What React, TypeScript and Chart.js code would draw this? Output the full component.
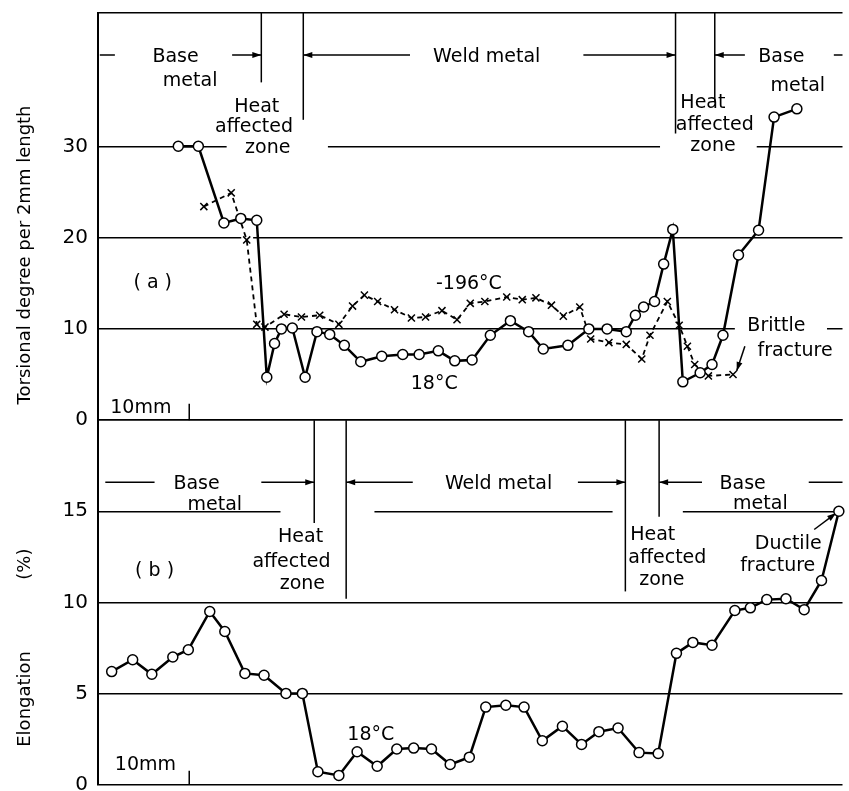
import React, { useEffect, useRef } from 'react';
import { Chart, registerables } from 'chart.js';

Chart.register(...registerables);

// ---------- axes ----------
const X_MAX = 81.6; // mm shown across the plot
const A_MAX = 44.6;
const B_MAX = 20;
const A_TICKS = [0, 10, 20, 30];
const B_TICKS = [0, 5, 10, 15];

// ---------- (a) torsional degree per 2mm length ----------
const A18_X = [8.8, 11.0, 13.8, 15.65, 17.4, 18.5, 19.35, 20.1, 21.3, 22.7, 24.0, 25.4, 27.0, 28.8, 31.1, 33.4, 35.2, 37.3, 39.1, 41.0, 43.0, 45.2, 47.2, 48.8, 51.5, 53.8, 55.8, 57.9, 58.9, 59.8, 61.0, 62.0, 63.0, 64.1, 66.0, 67.3, 68.5, 70.2, 72.4, 74.1, 76.6];
const A18_Y = [30.0, 30.0, 21.6, 22.1, 21.9, 4.7, 8.4, 10.0, 10.1, 4.7, 9.7, 9.4, 8.2, 6.4, 7.0, 7.2, 7.2, 7.6, 6.5, 6.6, 9.3, 10.9, 9.7, 7.8, 8.2, 10.0, 10.0, 9.7, 11.5, 12.4, 13.0, 17.1, 20.9, 4.2, 5.2, 6.1, 9.3, 18.1, 20.8, 33.2, 34.1];

const A196_X = [11.6, 14.6, 16.3, 17.4, 18.3, 20.4, 22.3, 24.3, 26.4, 27.9, 29.2, 30.65, 32.5, 34.35, 35.9, 37.7, 39.35, 40.8, 42.4, 44.8, 46.5, 48.0, 49.7, 51.0, 52.8, 54.0, 56.0, 57.9, 59.6, 60.5, 62.4, 63.7, 64.6, 65.4, 66.9, 69.6];
const A196_Y = [23.4, 24.9, 19.75, 10.5, 10.2, 11.6, 11.3, 11.5, 10.5, 12.5, 13.7, 13.0, 12.1, 11.2, 11.3, 12.0, 11.0, 12.8, 13.0, 13.5, 13.2, 13.4, 12.6, 11.4, 12.4, 8.9, 8.5, 8.3, 6.7, 9.3, 13.0, 10.4, 8.1, 6.1, 4.85, 5.0];

// ---------- (b) elongation (%) ----------
const B18_X = [1.5, 3.8, 5.9, 8.2, 9.9, 12.25, 13.9, 16.1, 18.2, 20.6, 22.4, 24.1, 26.4, 28.4, 30.6, 32.75, 34.6, 36.55, 38.6, 40.7, 42.5, 44.7, 46.7, 48.7, 50.9, 53.0, 54.9, 57.0, 59.3, 61.4, 63.4, 65.2, 67.3, 69.8, 71.5, 73.3, 75.4, 77.4, 79.3, 81.2];
const B18_Y = [6.2, 6.85, 6.05, 7.0, 7.4, 9.5, 8.4, 6.1, 6.0, 5.0, 5.0, 0.7, 0.5, 1.8, 1.0, 1.95, 2.0, 1.95, 1.1, 1.5, 4.25, 4.35, 4.25, 2.4, 3.2, 2.2, 2.9, 3.1, 1.75, 1.7, 7.2, 7.8, 7.65, 9.55, 9.7, 10.15, 10.2, 9.6, 11.2, 15.0];

// ---------- annotations (data units, panel 'a' or 'b') ----------
type P = 'a' | 'b';
const LABELS: { p: P; x: number; y: number; t: string }[] = [
  { p: 'a', x: 8.5, y: 39.8, t: 'Base' },
  { p: 'a', x: 10.1, y: 37.2, t: 'metal' },
  { p: 'a', x: 17.4, y: 34.3, t: 'Heat' },
  { p: 'a', x: 17.1, y: 32.1, t: 'affected' },
  { p: 'a', x: 18.6, y: 29.8, t: 'zone' },
  { p: 'a', x: 42.6, y: 39.8, t: 'Weld metal' },
  { p: 'a', x: 66.3, y: 34.7, t: 'Heat' },
  { p: 'a', x: 67.6, y: 32.3, t: 'affected' },
  { p: 'a', x: 67.4, y: 30.0, t: 'zone' },
  { p: 'a', x: 74.9, y: 39.8, t: 'Base' },
  { p: 'a', x: 76.7, y: 36.6, t: 'metal' },
  { p: 'a', x: 6.0, y: 15.0, t: '( a )' },
  { p: 'a', x: 40.65, y: 14.9, t: '-196°C' },
  { p: 'a', x: 36.85, y: 4.0, t: '18°C' },
  { p: 'a', x: 74.35, y: 10.3, t: 'Brittle' },
  { p: 'a', x: 76.4, y: 7.6, t: 'fracture' },
  { p: 'a', x: 4.7, y: 1.3, t: '10mm' },
  { p: 'b', x: 10.8, y: 16.5, t: 'Base' },
  { p: 'b', x: 12.8, y: 15.35, t: 'metal' },
  { p: 'b', x: 22.2, y: 13.6, t: 'Heat' },
  { p: 'b', x: 21.2, y: 12.2, t: 'affected' },
  { p: 'b', x: 22.4, y: 11.0, t: 'zone' },
  { p: 'b', x: 43.9, y: 16.5, t: 'Weld metal' },
  { p: 'b', x: 60.8, y: 13.7, t: 'Heat' },
  { p: 'b', x: 62.4, y: 12.45, t: 'affected' },
  { p: 'b', x: 61.8, y: 11.2, t: 'zone' },
  { p: 'b', x: 70.65, y: 16.5, t: 'Base' },
  { p: 'b', x: 72.6, y: 15.4, t: 'metal' },
  { p: 'b', x: 75.65, y: 13.2, t: 'Ductile' },
  { p: 'b', x: 74.5, y: 12.0, t: 'fracture' },
  { p: 'b', x: 6.2, y: 11.7, t: '( b )' },
  { p: 'b', x: 29.9, y: 2.7, t: '18°C' },
  { p: 'b', x: 5.2, y: 1.05, t: '10mm' },
];

const TITLES: { p: P; y: number; t: string }[] = [
  { p: 'a', y: 18.1, t: 'Torsional degree per 2mm length' },
  { p: 'b', y: 12.1, t: '(%)' },
  { p: 'b', y: 4.7, t: 'Elongation' },
];

const LINES: { p: P; x0: number; y0: number; x1: number; y1: number }[] = [
  { p: 'a', x0: 0.2, y0: 40, x1: 1.85, y1: 40 },
  { p: 'a', x0: 17.9, y0: A_MAX, x1: 17.9, y1: 37.0 },
  { p: 'a', x0: 22.5, y0: A_MAX, x1: 22.5, y1: 32.9 },
  { p: 'a', x0: 63.3, y0: A_MAX, x1: 63.3, y1: 31.4 },
  { p: 'a', x0: 67.6, y0: A_MAX, x1: 67.6, y1: 34.8 },
  { p: 'a', x0: 80.65, y0: 40, x1: X_MAX, y1: 40 },
  { p: 'a', x0: 10, y0: 0, x1: 10, y1: 1.8 },
  { p: 'b', x0: 0.8, y0: 16.6, x1: 6.2, y1: 16.6 },
  { p: 'b', x0: 23.7, y0: B_MAX, x1: 23.7, y1: 14.35 },
  { p: 'b', x0: 27.2, y0: B_MAX, x1: 27.2, y1: 10.2 },
  { p: 'b', x0: 57.8, y0: B_MAX, x1: 57.8, y1: 10.6 },
  { p: 'b', x0: 61.5, y0: B_MAX, x1: 61.5, y1: 14.7 },
  { p: 'b', x0: 77.9, y0: 16.6, x1: X_MAX, y1: 16.6 },
  { p: 'b', x0: 10, y0: 0, x1: 10, y1: 0.75 },
];

// arrow head at (x1, y1)
const ARROWS: { p: P; x0: number; y0: number; x1: number; y1: number }[] = [
  { p: 'a', x0: 14.7, y0: 40, x1: 17.9, y1: 40 },
  { p: 'a', x0: 34.2, y0: 40, x1: 22.5, y1: 40 },
  { p: 'a', x0: 53.2, y0: 40, x1: 63.3, y1: 40 },
  { p: 'a', x0: 70.9, y0: 40, x1: 67.6, y1: 40 },
  { p: 'a', x0: 70.9, y0: 8.1, x1: 70.0, y1: 5.4 },
  { p: 'b', x0: 17.9, y0: 16.6, x1: 23.7, y1: 16.6 },
  { p: 'b', x0: 34.5, y0: 16.6, x1: 27.2, y1: 16.6 },
  { p: 'b', x0: 52.6, y0: 16.6, x1: 57.8, y1: 16.6 },
  { p: 'b', x0: 66.2, y0: 16.6, x1: 61.5, y1: 16.6 },
  { p: 'b', x0: 78.5, y0: 14.0, x1: 80.9, y1: 14.9 },
];

// breaks in the horizontal rules
const GRID_GAPS: { p: P; y: number; x0: number; x1: number }[] = [
  { p: 'a', y: 30, x0: 14.1, x1: 25.2 },
  { p: 'a', y: 30, x0: 61.6, x1: 72.2 },
  { p: 'a', y: 20, x0: 15.7, x1: 17.0 },
  { p: 'a', y: 10, x0: 69.8, x1: 79.9 },
  { p: 'b', y: 15, x0: 20.0, x1: 30.3 },
  { p: 'b', y: 15, x0: 56.4, x1: 64.1 },
];

const FONT = 'DejaVu Sans';
const INK = '#000';

const annotationPlugin = {
  id: 'weldAnnotations',
  beforeDatasetsDraw(chart: any) {
    const { ctx, scales, chartArea } = chart;
    const xs = scales.x;
    const yOf = (p: P) => (p === 'a' ? scales.ya : scales.yb);
    const px = (v: number) => xs.getPixelForValue(v);
    ctx.save();
    ctx.fillStyle = '#fff';
    for (const g of GRID_GAPS) {
      const y = yOf(g.p).getPixelForValue(g.y);
      ctx.fillRect(px(g.x0), y - 2.5, px(g.x1) - px(g.x0), 5);
    }
    ctx.strokeStyle = INK;
    ctx.fillStyle = INK;
    ctx.lineWidth = 1.5;
    for (const l of LINES) {
      const ys = yOf(l.p);
      ctx.beginPath();
      ctx.moveTo(px(l.x0), ys.getPixelForValue(l.y0));
      ctx.lineTo(px(l.x1), ys.getPixelForValue(l.y1));
      ctx.stroke();
    }
    for (const a of ARROWS) {
      const ys = yOf(a.p);
      const x0 = px(a.x0), y0 = ys.getPixelForValue(a.y0);
      const x1 = px(a.x1), y1 = ys.getPixelForValue(a.y1);
      ctx.beginPath();
      ctx.moveTo(x0, y0);
      ctx.lineTo(x1, y1);
      ctx.stroke();
      const ang = Math.atan2(y1 - y0, x1 - x0);
      const L = 9, W = 3;
      ctx.beginPath();
      ctx.moveTo(x1, y1);
      ctx.lineTo(x1 - L * Math.cos(ang) + W * Math.sin(ang), y1 - L * Math.sin(ang) - W * Math.cos(ang));
      ctx.lineTo(x1 - L * Math.cos(ang) - W * Math.sin(ang), y1 - L * Math.sin(ang) + W * Math.cos(ang));
      ctx.closePath();
      ctx.fill();
    }
    ctx.font = `19px "${FONT}"`;
    ctx.textAlign = 'center';
    ctx.textBaseline = 'middle';
    for (const t of LABELS) {
      ctx.fillText(t.t, px(t.x), yOf(t.p).getPixelForValue(t.y));
    }
    ctx.font = `18px "${FONT}"`;
    for (const t of TITLES) {
      ctx.save();
      ctx.translate(chartArea.left - 73, yOf(t.p).getPixelForValue(t.y));
      ctx.rotate(-Math.PI / 2);
      ctx.fillText(t.t, 0, 0);
      ctx.restore();
    }
    ctx.restore();
  },
};

const pts = (xs: number[], ys: number[]) => xs.map((x, i) => ({ x, y: ys[i] }));

const fitAxis = (s: any) => {
  s.width = 98;
  s.paddingTop = 0;
  s.paddingBottom = 0;
};

export default function App() {
  const ref = useRef<HTMLCanvasElement | null>(null);

  useEffect(() => {
    if (!ref.current) return;
    const tickFont = { family: FONT, size: 20 };
    const chart = new Chart(ref.current, {
      type: 'line',
      data: {
        datasets: [
          {
            label: '18°C (a)',
            yAxisID: 'ya',
            data: pts(A18_X, A18_Y),
            borderColor: INK,
            borderWidth: 2.5,
            pointStyle: 'circle',
            pointRadius: 5,
            pointBackgroundColor: '#fff',
            pointBorderColor: INK,
            pointBorderWidth: 1.5,
            tension: 0,
            clip: false,
          },
          {
            label: '-196°C (a)',
            yAxisID: 'ya',
            data: pts(A196_X, A196_Y),
            borderColor: INK,
            borderWidth: 1.8,
            borderDash: [5, 4],
            pointStyle: 'crossRot',
            pointRadius: 5,
            pointBorderColor: INK,
            pointBorderWidth: 1.5,
            tension: 0,
            clip: false,
          },
          {
            label: '18°C (b)',
            yAxisID: 'yb',
            data: pts(B18_X, B18_Y),
            borderColor: INK,
            borderWidth: 2.5,
            pointStyle: 'circle',
            pointRadius: 5,
            pointBackgroundColor: '#fff',
            pointBorderColor: INK,
            pointBorderWidth: 1.5,
            tension: 0,
            clip: false,
          },
        ],
      },
      options: {
        animation: false,
        responsive: false,
        devicePixelRatio: 1,
        layout: { padding: { left: 0, right: 0, top: 13, bottom: 5 } },
        plugins: { legend: { display: false }, tooltip: { enabled: false } },
        scales: {
          x: { type: 'linear', min: 0, max: X_MAX, display: false },
          ya: {
            type: 'linear',
            position: 'left',
            stack: 'panels',
            stackWeight: 408,
            weight: 2,
            min: 0,
            max: A_MAX,
            afterBuildTicks: (s: any) => {
              s.ticks = [...A_TICKS, A_MAX].map((v) => ({ value: v }));
            },
            afterFit: fitAxis,
            ticks: {
              callback: (v: any) => (A_TICKS.includes(v) ? String(v) : ''),
              font: tickFont,
              color: INK,
              padding: 10,
            },
            grid: { color: INK, lineWidth: 1.5, drawTicks: false },
            border: { display: true, color: INK, width: 2 },
          },
          yb: {
            type: 'linear',
            position: 'left',
            stack: 'panels',
            stackWeight: 365,
            weight: 1,
            min: 0,
            max: B_MAX,
            afterBuildTicks: (s: any) => {
              s.ticks = [...B_TICKS, B_MAX].map((v) => ({ value: v }));
            },
            afterFit: fitAxis,
            ticks: {
              callback: (v: any) => (B_TICKS.includes(v) ? String(v) : ''),
              font: tickFont,
              color: INK,
              padding: 10,
            },
            grid: { color: INK, lineWidth: 1.5, drawTicks: false },
            border: { display: true, color: INK, width: 2 },
          },
        },
      } as any,
      plugins: [annotationPlugin],
    });
    return () => chart.destroy();
  }, []);

  return (
    <div style={{ position: 'absolute', left: 0, top: 0, width: 849, height: 791, background: '#fff' }}>
      <canvas ref={ref} width={849} height={791} />
    </div>
  );
}
